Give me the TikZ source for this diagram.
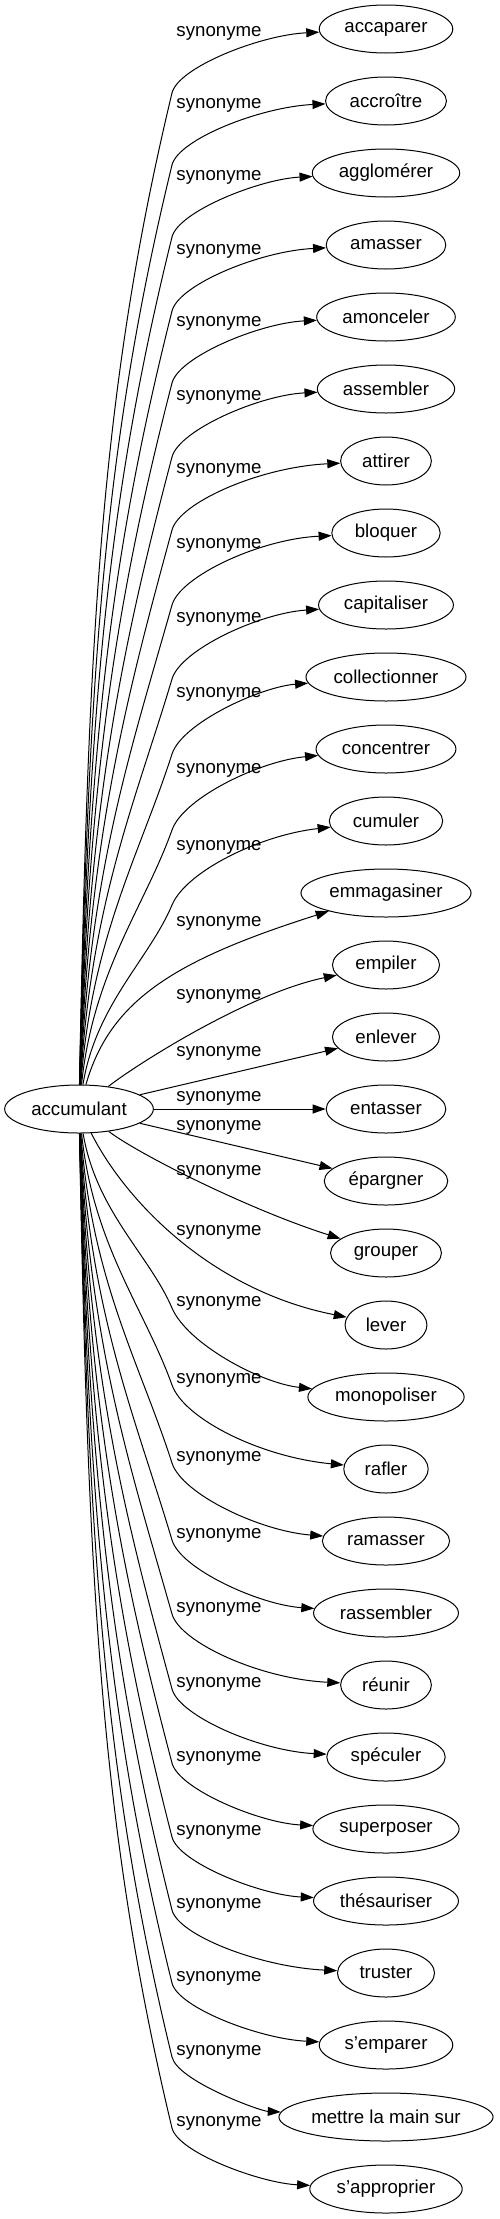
\documentclass[tikz,border=0pt]{standalone}
\usepackage{fontspec}
\setmainfont{Liberation Sans}
\usetikzlibrary{arrows.meta,shapes.geometric}
\newcommand{\wordfont}{\fontsize{18.67}{22}\selectfont}
\newcommand{\synlist}{accaparer,accroître,agglomérer,amasser,amonceler,
  assembler,attirer,bloquer,capitaliser,collectionner,concentrer,cumuler,
  emmagasiner,empiler,enlever,entasser,épargner,grouper,lever,monopoliser,
  rafler,ramasser,rassembler,réunir,spéculer,superposer,thésauriser,truster,
  s'emparer,mettre la main sur,s'approprier}
\newdimen\wordwd

\begin{document}
% widths of the words, taken before the picture
\foreach \w [count=\i from 0] in \synlist {%
  \settowidth{\wordwd}{\wordfont \w}%
  \expandafter\xdef\csname synwd\i\endcsname{\the\wordwd}%
}%
\settowidth{\wordwd}{\wordfont accumulant}\xdef\accwd{\the\wordwd}%
\begin{tikzpicture}[
  x=1pt,y=-1pt,
  every node/.style={font=\wordfont},
  word/.style={draw,ellipse,minimum height=48pt,inner xsep=0pt,line width=1pt},
  rel/.style={-{Triangle[length=13pt,width=9pt]},line width=1pt},
  lbl/.style={inner sep=0pt},
]
  \useasboundingbox (0,0) rectangle (500,2219);

  % Source word
  \pgfmathsetmacro{\ew}{1.214*(\accwd+27)}
  \node[word,minimum width=\ew pt] (acc) at (79,1109) {accumulant};

  % Synonyms
  \foreach \w [count=\i from 0] in \synlist {
    \pgfmathsetmacro{\ty}{29+72*\i}
    \edef\curwd{\csname synwd\i\endcsname}
    \pgfmathsetmacro{\ew}{1.214*(\curwd+27)}
    \node[word,minimum width=\ew pt] (syn\i) at (386,\ty) {\w};
  }

  % Edge labels
  \foreach \i/\ly in {0/33,1/105,2/177,3/251,4/323,5/397,6/470,7/545,8/619,
      9/694,10/770,11/847,12/923,13/996,14/1053,15/1098,16/1127,17/1172,
      18/1232,19/1303,20/1380,21/1458,22/1535,23/1609,24/1684,25/1758,
      26/1832,27/1905,28/1978,29/2052,30/2123}
    \node[lbl] (lab\i) at (219,\ly) {synonyme};

  % Long edges going up
  \foreach \i/\jy in {0/93,1/165,2/237,3/311,4/383,5/457,6/530,7/605,
      8/679,9/754,10/830,11/905} {
    \pgfmathsetmacro{\ty}{29+72*\i}
    \pgfmathsetmacro{\stemlen}{1086-\jy}
    \pgfmathsetmacro{\hooklen}{\jy-\ty}
    \pgfmathsetmacro{\tilt}{0.2+40/\stemlen}
    \pgfmathsetmacro{\sag}{max(6,2*\i-8)}
    \draw[rel] (acc) .. controls ({86+2000/(\stemlen+20)},{1086-0.45*\stemlen})
        and ({172-0.3*\stemlen*\tilt},{\jy+0.3*\stemlen}) .. (172,\jy)
      .. controls ({172+0.4*\hooklen*\tilt},{\jy-0.4*\hooklen})
        and (260,\ty+\sag) .. (syn\i);
  }

  % Short edges
  \draw[rel] (acc) .. controls (110,1000) and (175,960) .. (syn12);
  \draw[rel] (acc) .. controls (140,1062) and (250,993) .. (syn13);
  \foreach \i in {14,15,16}
    \draw[rel] (acc) -- (syn\i);
  \draw[rel] (acc) .. controls (140,1155) and (250,1210) .. (syn17);
  \draw[rel] (acc) .. controls (125,1200) and (210,1290) .. (syn18);

  % Long edges going down
  \foreach \i/\jy in {19/1308,20/1385,21/1463,22/1540,23/1614,24/1689,
      25/1763,26/1837,27/1910,28/1983,29/2057,30/2128} {
    \pgfmathsetmacro{\ty}{29+72*\i}
    \pgfmathsetmacro{\stemlen}{\jy-1132}
    \pgfmathsetmacro{\hooklen}{\ty-\jy}
    \pgfmathsetmacro{\tilt}{0.2+40/\stemlen}
    \pgfmathsetmacro{\sag}{max(6,52-2*\i)}
    \draw[rel] (acc) .. controls ({86+2000/(\stemlen+20)},{1132+0.45*\stemlen})
        and ({172-0.3*\stemlen*\tilt},{\jy-0.3*\stemlen}) .. (172,\jy)
      .. controls ({172+0.4*\hooklen*\tilt},{\jy+0.4*\hooklen})
        and (260,\ty-\sag) .. (syn\i);
  }
\end{tikzpicture}
\end{document}
